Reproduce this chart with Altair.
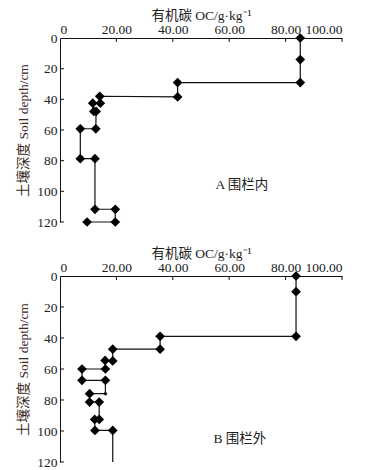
import altair as alt
import pandas as pd

# Panel A (inside enclosure)
A_oc = [85.2, 85.2, 85.2, 41.7, 41.7, 14.1, 14.3, 11.6, 12.0, 12.8, 12.7, 7.2, 7.2, 12.4, 12.4, 19.6, 19.6, 9.6]
A_depth = [0, 14.1, 29.1, 29.1, 38.4, 38.0, 42.5, 42.5, 47.9, 47.9, 59.2, 59.2, 78.7, 78.7, 111.7, 111.7, 120, 120]
A_marker = ["full"] * 18

# Panel B (outside enclosure)
B_oc = [83.7, 83.7, 83.7, 35.5, 35.5, 18.7, 18.7, 16.0, 16.1, 7.8, 7.8, 16.1, 16.1, 10.5, 10.5, 13.9, 13.9, 12.3, 12.4, 18.7, 18.7]
B_depth = [0, 10.1, 38.9, 38.9, 47.2, 47.2, 54.8, 54.5, 60.0, 60.0, 67.3, 67.3, 75.9, 75.9, 81.3, 81.3, 92.5, 92.5, 99.6, 99.6, 120]
B_marker = ["full"] * 12 + ["small"] + ["full"] * 7 + ["none"]

x_ticks = [0, 20, 40, 60, 80, 100]
y_ticks = [0, 20, 40, 60, 80, 100, 120]
x_title = "有机碳 OC/g·kg⁻¹"
y_title = "土壤深度 Soil depth/cm"
ann_text = ["A 围栏内", "B 围栏外"]
ann_oc = [64.5, 63.8]
ann_depth = [96, 105]

FONT = "Liberation Serif, Noto Sans CJK SC"
TXT = "#222222"


def panel(oc, depth, marker, label, lx, ly, h):
    df = pd.DataFrame({"oc": oc, "depth": depth, "mk": marker, "i": list(range(len(oc)))})
    xs = alt.Scale(domain=[0, 100], nice=False, zero=False)
    ys = alt.Scale(domain=[0, 120], reverse=True, nice=False, zero=False)
    xax = alt.Axis(orient="top", values=x_ticks, ticks=False, grid=False, domain=True,
                   domainColor="#111", domainWidth=1, labelOverlap=False,
                   labelExpr="datum.value == 0 ? '0' : format(datum.value, '.2f')",
                   labelFont=FONT, labelFontSize=13.5, labelColor=TXT, labelPadding=2,
                   title=x_title, titleFont=FONT, titleFontSize=13.5, titleFontWeight="normal",
                   titleColor=TXT, titlePadding=0)
    yax = alt.Axis(orient="left", values=y_ticks, ticks=False, grid=False, domain=True,
                   domainColor="#111", domainWidth=1, labelOverlap=False, tickCount=7,
                   labelFont=FONT, labelFontSize=13.5, labelColor=TXT, labelPadding=3,
                   title=y_title, titleFont=FONT, titleFontSize=13.5, titleFontWeight="normal",
                   titleColor="#3a2a1c", titlePadding=6)
    base = alt.Chart(df)
    line = base.mark_line(color="#111111", strokeWidth=1.2).encode(
        x=alt.X("oc:Q", scale=xs, axis=xax),
        y=alt.Y("depth:Q", scale=ys, axis=yax),
        order="i:Q",
    )
    pts = base.transform_filter("datum.mk != 'none'").mark_point(
        shape="diamond", filled=True, color="#000000", opacity=1
    ).encode(
        x=alt.X("oc:Q", scale=xs, axis=xax),
        y=alt.Y("depth:Q", scale=ys, axis=yax),
        size=alt.Size("mk:N", scale=alt.Scale(domain=["full", "small"], range=[95, 18]), legend=None),
    )
    xt = alt.Chart(pd.DataFrame({"oc": x_ticks[1:]})).mark_rule(color="#111", strokeWidth=1).encode(
        x=alt.X("oc:Q", scale=xs, axis=xax), y=alt.value(0), y2=alt.value(4))
    yt = alt.Chart(pd.DataFrame({"depth": y_ticks[1:]})).mark_rule(color="#111", strokeWidth=1).encode(
        y=alt.Y("depth:Q", scale=ys, axis=yax), x=alt.value(0), x2=alt.value(4))
    txt = alt.Chart(pd.DataFrame({"t": [label], "oc": [lx], "depth": [ly]})).mark_text(
        font=FONT, fontSize=13.5, color=TXT, align="center", baseline="middle"
    ).encode(x=alt.X("oc:Q", scale=xs, axis=xax), y=alt.Y("depth:Q", scale=ys, axis=yax), text="t:N")
    return alt.layer(line, pts, xt, yt, txt).properties(width=282, height=h)


pA = panel(A_oc, A_depth, A_marker, ann_text[0], ann_oc[0], ann_depth[0], 184)
pB = panel(B_oc, B_depth, B_marker, ann_text[1], ann_oc[1], ann_depth[1], 186)

chart = alt.vconcat(pA, pB, spacing=54, bounds="flush").properties(
    padding={"left": 8, "top": 0, "right": 5, "bottom": 2},
    background="white",
).configure_view(stroke=None)

chart.save("out.html", embed_options={"renderer": "svg", "actions": False})
